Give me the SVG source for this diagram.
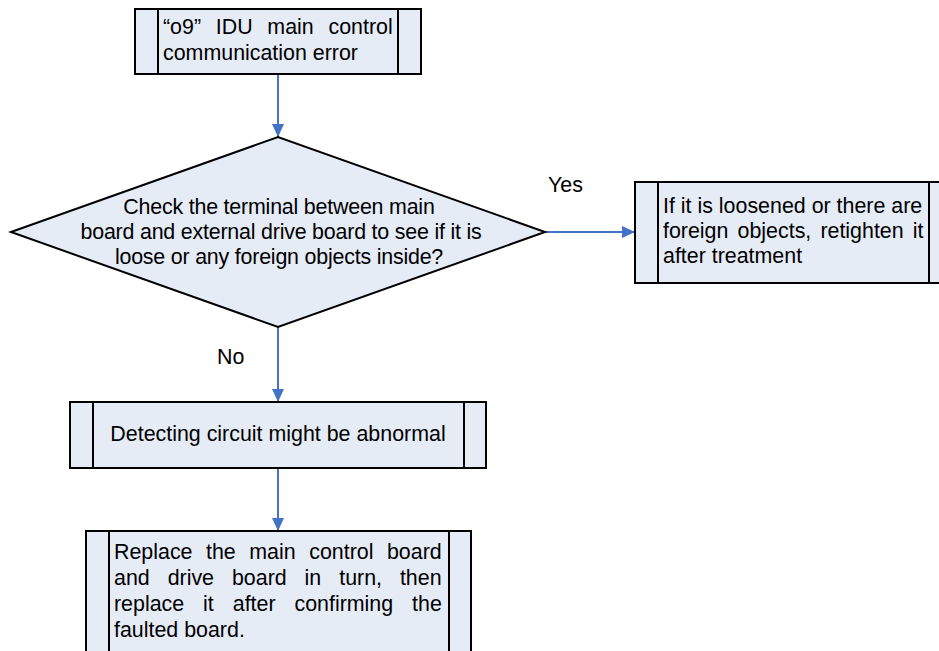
<svg xmlns="http://www.w3.org/2000/svg" width="939" height="651" viewBox="0 0 939 651">
<style>
.box{fill:#E6ECF6;stroke:#000;stroke-width:2}
.ln{stroke:#000;stroke-width:2}
.t{font-family:"Liberation Sans",Arial,sans-serif;font-size:21.4px;fill:#000}
.c{text-anchor:middle}
.con{stroke:#4472C4;stroke-width:2;fill:none}
</style>
<defs>
<marker id="ah" markerWidth="13" markerHeight="12" refX="13" refY="6" orient="auto" markerUnits="userSpaceOnUse">
<path d="M0,0 L13,6 L0,12 z" fill="#4472C4"/>
</marker>
</defs>
<g id="connectors">
<line class="con" x1="278" y1="74" x2="278" y2="137" marker-end="url(#ah)"/>
<line class="con" x1="278" y1="327" x2="278" y2="402" marker-end="url(#ah)"/>
<line class="con" x1="278" y1="468" x2="278" y2="531" marker-end="url(#ah)"/>
<line class="con" x1="545" y1="232" x2="635" y2="232" marker-end="url(#ah)"/>
<text class="t" x="548" y="192">Yes</text>
<text class="t" x="217" y="364">No</text>
</g>
<g id="start">
<rect class="box" x="135" y="9" width="286" height="65"/>
<line class="ln" x1="158" y1="9" x2="158" y2="74"/>
<line class="ln" x1="398" y1="9" x2="398" y2="74"/>
<text class="t" x="163" y="34" word-spacing="8.8">“o9” IDU main control</text>
<text class="t" x="163" y="60">communication error</text>
</g>
<g id="decision">
<polygon class="box" points="11,232 278,137 545,232 278,327"/>
<text class="t c" x="279" y="214" letter-spacing="-0.2">Check the terminal between main</text>
<text class="t c" x="281" y="239" letter-spacing="-0.2">board and external drive board to see if it is</text>
<text class="t c" x="279" y="264" letter-spacing="-0.2">loose or any foreign objects inside?</text>
</g>
<g id="retighten">
<rect class="box" x="635" y="182" width="320" height="101"/>
<line class="ln" x1="658" y1="182" x2="658" y2="283"/>
<line class="ln" x1="929" y1="182" x2="929" y2="283"/>
<text class="t" x="663" y="213">If it is loosened or there are</text>
<text class="t" x="663" y="238" word-spacing="3.2">foreign objects, retighten it</text>
<text class="t" x="663" y="263">after treatment</text>
</g>
<g id="detect">
<rect class="box" x="70" y="402" width="416" height="66"/>
<line class="ln" x1="93" y1="402" x2="93" y2="468"/>
<line class="ln" x1="464" y1="402" x2="464" y2="468"/>
<text class="t c" x="278" y="441">Detecting circuit might be abnormal</text>
</g>
<g id="replace">
<rect class="box" x="86" y="531" width="385" height="140"/>
<line class="ln" x1="109" y1="531" x2="109" y2="671"/>
<line class="ln" x1="449" y1="531" x2="449" y2="671"/>
<text class="t" x="114" y="559" word-spacing="7.6">Replace the main control board</text>
<text class="t" x="114" y="585" word-spacing="12">and drive board in turn, then</text>
<text class="t" x="114" y="611" word-spacing="13">replace it after confirming the</text>
<text class="t" x="114" y="637">faulted board.</text>
</g>
</svg>
